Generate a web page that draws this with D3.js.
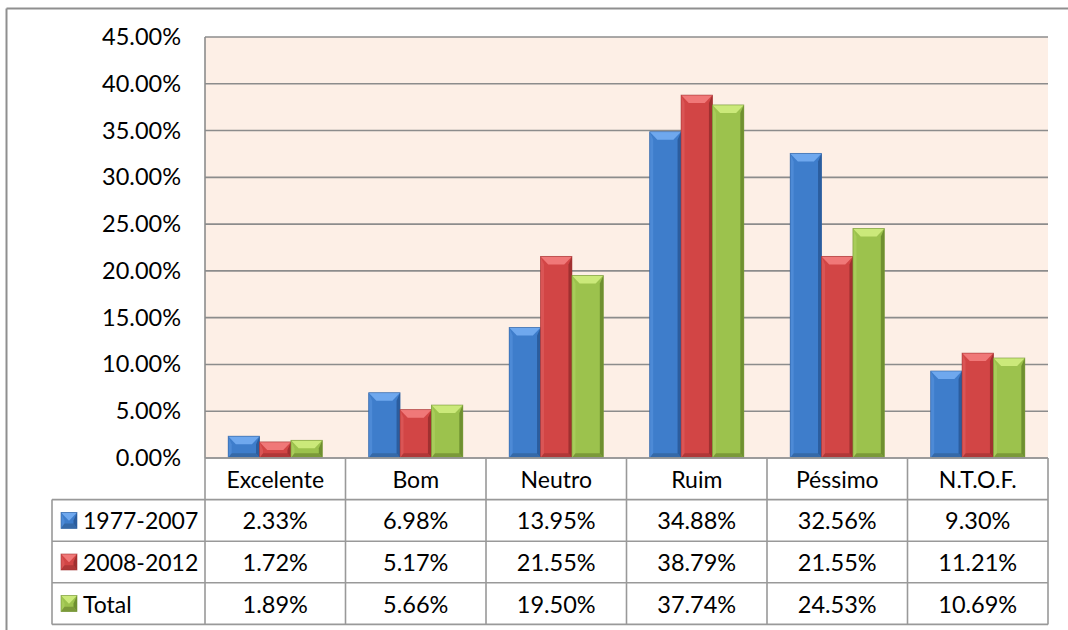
<!DOCTYPE html>
<html><head><meta charset="utf-8">
<script src="https://cdn.jsdelivr.net/npm/d3@7"></script>
<style>html,body{margin:0;padding:0;background:#fff;overflow:hidden}svg{display:block}</style>
</head><body>
<svg id="c" width="1068" height="630"></svg>
<script>
const categories = ["Excelente","Bom","Neutro","Ruim","Péssimo","N.T.O.F."];
const seriesNames = ["1977-2007","2008-2012","Total"];
const s1977 = [2.33, 6.98, 13.95, 34.88, 32.56, 9.30];
const s2008 = [1.72, 5.17, 21.55, 38.79, 21.55, 11.21];
const sTotal = [1.89, 5.66, 19.50, 37.74, 24.53, 10.69];
const yTicks = [0,5,10,15,20,25,30,35,40,45];
const seriesValues = [s1977, s2008, sTotal];

const palette = [
  {main:"#3e7dcb", light:"#6fa8ee", side:"#4d8ad6", dark:"#2b5d9e", bottom:"#33649f"},
  {main:"#d24545", light:"#f07878", side:"#da5555", dark:"#a03030", bottom:"#a83434"},
  {main:"#9cc24d", light:"#cbe97a", side:"#a8cc5a", dark:"#6f9030", bottom:"#738f35"}
];

const svg = d3.select("#c");
const font = "Lato, 'Open Sans', sans-serif";
const L = 205, R = 1048, T = 37, B = 458;
const rowH = 41.6;
const tableLeft = 52;

// outer frame (only top and left edges visible)
svg.append("line").attr("x1",6.5).attr("x2",1068).attr("y1",8.5).attr("y2",8.5).attr("stroke","#8f8f8f").attr("stroke-width",2);
svg.append("line").attr("x1",6.5).attr("x2",6.5).attr("y1",8.5).attr("y2",630).attr("stroke","#8f8f8f").attr("stroke-width",2);

const y = d3.scaleLinear().domain([0,45]).range([B,T]);
const x = d3.scaleBand().domain(categories).range([L,R]).paddingInner(0.33).paddingOuter(0.165);
const xCell = d3.scaleBand().domain(categories).range([L,R]);
const xs = d3.scaleBand().domain(seriesNames).range([0,x.bandwidth()]);

// plot background
svg.append("rect").attr("x",L).attr("y",T).attr("width",R-L).attr("height",B-T).attr("fill","#fdefe6");

// gridlines
svg.append("g").selectAll("line").data(yTicks.filter(d=>d>0)).join("line")
  .attr("x1",L).attr("x2",R).attr("y1",d=>y(d)).attr("y2",d=>y(d))
  .attr("stroke","#8c8c8c").attr("stroke-width",1.6);

// y axis labels
const yAxis = d3.axisLeft(y).tickValues(yTicks).tickFormat(d=>d.toFixed(2)+"%").tickSize(0).tickPadding(24);
const ga = svg.append("g").attr("transform",`translate(${L},0)`).call(yAxis);
ga.select(".domain").remove();
ga.selectAll("text").attr("font-family",font).attr("font-size",23.5).attr("fill","#000");

function bevelBar(g, bx, by, bw, bh, c){
  const bv = Math.min(8, bh/2), sv = Math.min(3.5, bw/4);
  g.append("rect").attr("x",bx).attr("y",by).attr("width",bw).attr("height",bh).attr("fill",c.main);
  g.append("polygon").attr("points",[[bx,by],[bx+sv,by+bv],[bx+sv,by+bh-bv*0.6],[bx,by+bh]].join(" ")).attr("fill",c.side);
  g.append("polygon").attr("points",[[bx+bw,by],[bx+bw-sv,by+bv],[bx+bw-sv,by+bh-bv*0.6],[bx+bw,by+bh]].join(" ")).attr("fill",c.dark);
  g.append("polygon").attr("points",[[bx,by+bh],[bx+sv,by+bh-bv*0.6],[bx+bw-sv,by+bh-bv*0.6],[bx+bw,by+bh]].join(" ")).attr("fill",c.bottom).attr("opacity",0.8);
  g.append("polygon").attr("points",[[bx,by],[bx+bw,by],[bx+bw-sv*2.2,by+bv],[bx+sv*2.2,by+bv]].join(" ")).attr("fill",c.light);
  g.append("rect").attr("x",bx).attr("y",by).attr("width",bw).attr("height",bh).attr("fill","none").attr("stroke",c.dark).attr("stroke-width",0.8).attr("opacity",0.7);
}

const gb = svg.append("g");
seriesValues.forEach((vals,si)=>{
  categories.forEach((cat,ci)=>{
    const bx = x(cat)+xs(seriesNames[si]);
    const by = y(vals[ci]);
    bevelBar(gb, bx, by, xs.bandwidth(), B-by, palette[si]);
  });
});

svg.append("line").attr("x1",L).attr("x2",L).attr("y1",T).attr("y2",B).attr("stroke","#8c8c8c").attr("stroke-width",1.6);
svg.append("line").attr("x1",L).attr("x2",R).attr("y1",B).attr("y2",B).attr("stroke","#8c8c8c").attr("stroke-width",1.6);

// data table
const tg = svg.append("g");
const lineC = "#999", lw = 1.6;
const tableBottom = B + rowH*4;
[0,1,2,3,4].forEach(i=>{
  const yy = B + rowH*i;
  tg.append("line").attr("x1", i===0? L : tableLeft).attr("x2",R).attr("y1",yy).attr("y2",yy).attr("stroke",lineC).attr("stroke-width",lw);
});
categories.forEach(cat=>{
  tg.append("line").attr("x1",xCell(cat)).attr("x2",xCell(cat)).attr("y1",B).attr("y2",tableBottom).attr("stroke",lineC).attr("stroke-width",lw);
});
tg.append("line").attr("x1",R).attr("x2",R).attr("y1",B).attr("y2",tableBottom).attr("stroke",lineC).attr("stroke-width",lw);
tg.append("line").attr("x1",tableLeft).attr("x2",tableLeft).attr("y1",B+rowH).attr("y2",tableBottom).attr("stroke",lineC).attr("stroke-width",lw);

tg.selectAll("text.cat").data(categories).join("text").attr("class","cat")
  .attr("x",d=>xCell(d)+xCell.bandwidth()/2).attr("y",B+rowH/2)
  .attr("text-anchor","middle").attr("dominant-baseline","central")
  .attr("font-family",font).attr("font-size",23).attr("fill","#000").text(d=>d);

seriesValues.forEach((vals,si)=>{
  const ry = B + rowH*(si+1) + rowH/2;
  tg.append("g").selectAll("text").data(vals).join("text")
    .attr("x",(d,i)=>xCell(categories[i])+xCell.bandwidth()/2).attr("y",ry)
    .attr("text-anchor","middle").attr("dominant-baseline","central")
    .attr("font-family",font).attr("font-size",23.5).attr("fill","#000").text(d=>d.toFixed(2)+"%");
  const kg = tg.append("g");
  bevelBar(kg, 61, ry-8, 16, 16, palette[si]);
  tg.append("text").attr("x",83).attr("y",ry).attr("dominant-baseline","central")
    .attr("font-family",font).attr("font-size",23).attr("fill","#000").text(seriesNames[si]);
});
</script>
</body></html>
